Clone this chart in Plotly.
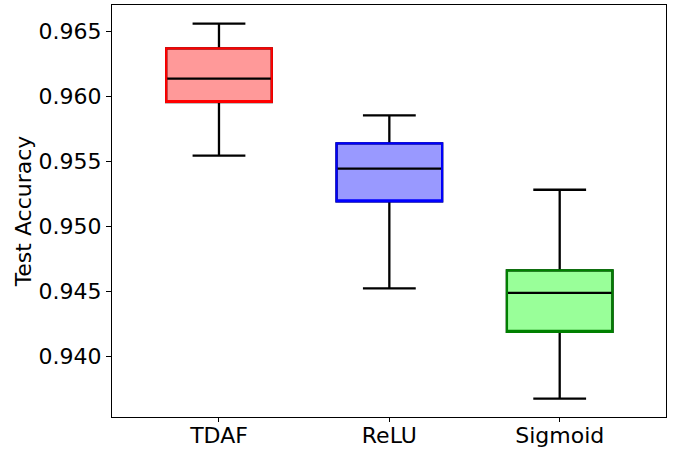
import plotly.graph_objects as go

categories = ["TDAF", "ReLU", "Sigmoid"]
lower_whisker = [0.95541, 0.94521, 0.93672]
q1_vals = [0.95954, 0.95190, 0.94185]
medians = [0.96133, 0.95441, 0.94485]
q3_vals = [0.96367, 0.95636, 0.94659]
upper_whisker = [0.96556, 0.95851, 0.95279]
fill_colors = ["#ff9999", "#9999ff", "#99ff99"]
edge_colors = ["#ff0000", "#0000ff", "#008000"]

fig = go.Figure()
for i, cat in enumerate(categories):
    # full box with black whiskers / median
    fig.add_trace(go.Box(
        x=[cat], q1=[q1_vals[i]], median=[medians[i]], q3=[q3_vals[i]],
        lowerfence=[lower_whisker[i]], upperfence=[upper_whisker[i]],
        fillcolor=fill_colors[i], line=dict(color="black", width=2.3),
        width=0.62, whiskerwidth=0.5, boxpoints=False, showlegend=False,
        hoverinfo="skip",
    ))
    # coloured outline of the box
    fig.add_trace(go.Box(
        x=[cat], q1=[q1_vals[i]], median=[q1_vals[i]], q3=[q3_vals[i]],
        lowerfence=[q1_vals[i]], upperfence=[q3_vals[i]],
        fillcolor="rgba(0,0,0,0)", line=dict(color=edge_colors[i], width=2.2),
        width=0.62, whiskerwidth=0, boxpoints=False, showlegend=False,
        hoverinfo="skip",
    ))

fig.update_layout(
    width=678, height=451,
    margin=dict(l=112, r=12, t=5, b=34, autoexpand=False),
    paper_bgcolor="white", plot_bgcolor="white",
    font=dict(family="DejaVu Sans", size=22, color="black"),
    boxmode="overlay",
)
fig.update_xaxes(
    range=[-0.628, 2.624], showgrid=False, zeroline=False,
    showline=True, linecolor="black", linewidth=1, mirror=True,
    ticks="outside", ticklen=4, tickwidth=1, tickcolor="black",
    tickfont=dict(size=22), automargin=False, ticklabelstandoff=-5,
)
fig.update_yaxes(
    range=[0.93531, 0.96700], showgrid=False, zeroline=False,
    showline=True, linecolor="black", linewidth=1, mirror=True,
    ticks="outside", ticklen=5, tickwidth=1, tickcolor="black",
    tickvals=[0.940, 0.945, 0.950, 0.955, 0.960, 0.965],
    tickformat=".3f", tickfont=dict(size=22), automargin=False,
    title=dict(text="Test Accuracy", font=dict(size=22), standoff=0),
)

fig.write_html("out.html", config={"displayModeBar": False},
               post_script="document.body.style.margin='0';")
